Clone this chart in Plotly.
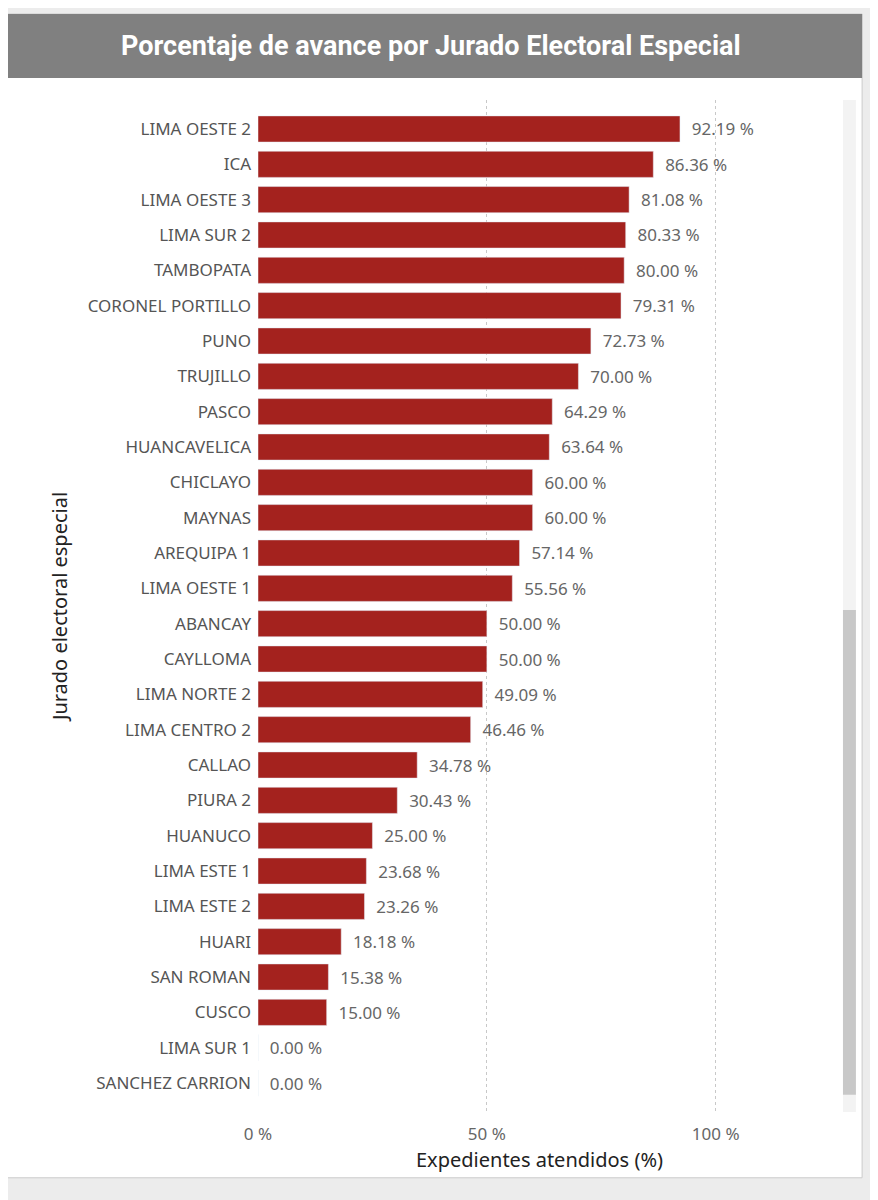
import plotly.graph_objects as go

jurados = ["LIMA OESTE 2", "ICA", "LIMA OESTE 3", "LIMA SUR 2", "TAMBOPATA",
           "CORONEL PORTILLO", "PUNO", "TRUJILLO", "PASCO", "HUANCAVELICA",
           "CHICLAYO", "MAYNAS", "AREQUIPA 1", "LIMA OESTE 1", "ABANCAY",
           "CAYLLOMA", "LIMA NORTE 2", "LIMA CENTRO 2", "CALLAO", "PIURA 2",
           "HUANUCO", "LIMA ESTE 1", "LIMA ESTE 2", "HUARI", "SAN ROMAN",
           "CUSCO", "LIMA SUR 1", "SANCHEZ CARRION"]
avance = [92.19, 86.36, 81.08, 80.33, 80.00, 79.31, 72.73, 70.00, 64.29, 63.64,
          60.00, 60.00, 57.14, 55.56, 50.00, 50.00, 49.09, 46.46, 34.78, 30.43,
          25.00, 23.68, 23.26, 18.18, 15.38, 15.00, 0.00, 0.00]
ticks = [0, 50, 100]
tick_text = ["0 %", "50 %", "100 %"]

fig = go.Figure(go.Bar(
    x=avance, y=jurados, orientation="h",
    marker_color="#a4221e", width=0.74,
    text=[f"  {v:.2f} %" for v in avance], textposition="outside",
    textfont=dict(size=17, color="#666666"), cliponaxis=False,
))

n = len(jurados)
pad = 0.32
fig.update_layout(
    width=878, height=1200,
    margin=dict(l=250, r=65, t=92, b=96),
    paper_bgcolor="#ececec", plot_bgcolor="rgba(0,0,0,0)",
    font=dict(family="Noto Sans, Open Sans, sans-serif"),
    showlegend=False,
    xaxis=dict(range=[0, 123], tickvals=ticks, ticktext=tick_text,
               showgrid=True, gridcolor="#c8c8c8", griddash="dot",
               zeroline=False, tickfont=dict(size=17, color="#666666"),
               ticklabelstandoff=10,
               title=dict(text="Expedientes atendidos (%)", standoff=8,
                          font=dict(size=20, color="#222222"))),
    yaxis=dict(categoryorder="array", categoryarray=jurados[::-1],
               range=[-0.5 - pad, n - 0.5 + pad], showgrid=False,
               tickfont=dict(size=17, color="#555555"), ticklabelstandoff=6,
               title=dict(text="Jurado electoral especial", standoff=14,
                          font=dict(size=20, color="#222222"))),
    shapes=[
        dict(type="rect", xref="paper", yref="paper", x0=-0.455, x1=1.073,
             y0=-0.065, y1=1.085, fillcolor="white",
             line=dict(color="#cccccc", width=1), layer="below"),
        dict(type="rect", xref="paper", yref="paper", x0=-0.455, x1=1.073,
             y0=1.0217, y1=1.085, fillcolor="#808080", line_width=0,
             layer="below"),
        dict(type="rect", xref="paper", yref="paper", x0=1.039, x1=1.062,
             y0=0.0, y1=1.0, fillcolor="#f3f3f3", line_width=0, layer="below"),
        dict(type="rect", xref="paper", yref="paper", x0=1.039, x1=1.062,
             y0=0.017, y1=0.496, fillcolor="#c8c8c8", line_width=0,
             layer="below"),
    ],
    annotations=[dict(text="<b>Porcentaje de avance por Jurado Electoral Especial</b>",
                      xref="paper", yref="paper", x=0.307, y=1.0534,
                      xanchor="center", yanchor="middle",
                      showarrow=False, font=dict(size=27, color="white",
                                                 family="Roboto"))],
)

fig.write_html("out.html")
